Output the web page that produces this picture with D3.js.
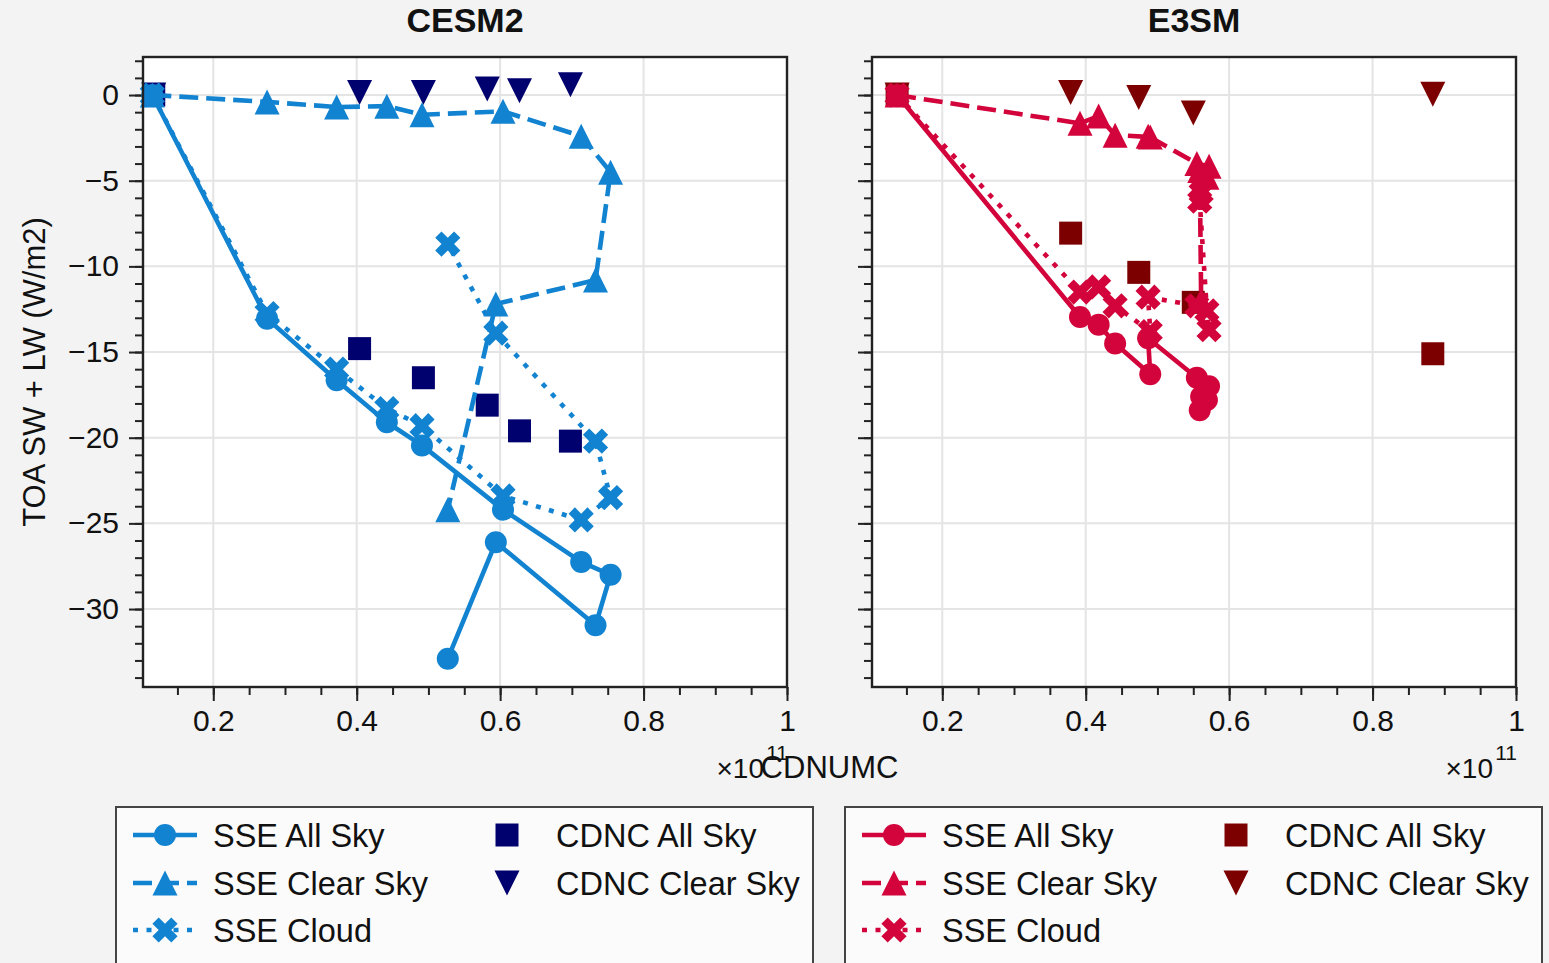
<!DOCTYPE html>
<html>
<head>
<meta charset="utf-8">
<script src="https://cdn.jsdelivr.net/npm/d3@7"></script>
<style>
body { margin: 0; background: #f3f3f3; }
text { font-family: "Liberation Sans", Arial, Helvetica, sans-serif; fill: #111; }
</style>
</head>
<body>
<div class="svg-container"></div>
<script>
// CDNUMC values are in units of 1e11
var cesmX      = [0.115, 0.275, 0.372, 0.442, 0.491, 0.604, 0.713, 0.754, 0.733, 0.594, 0.527];
var cesmAll    = [0, -13.05, -16.65, -19.1, -20.45, -24.2, -27.25, -28.0, -30.95, -26.1, -32.9];
var cesmClear  = [0, -0.4, -0.7, -0.65, -1.15, -0.95, -2.4, -4.5, -10.8, -12.2, -24.2];
var cesmCloud  = [0, -12.75, -16.0, -18.3, -19.3, -23.4, -24.8, -23.5, -20.2, -13.9, -8.7];
var cesmCdncX     = [0.117, 0.404, 0.493, 0.582, 0.627, 0.698];
var cesmCdncAll   = [0, -14.8, -16.5, -18.1, -19.6, -20.2];
var cesmCdncClear = [0, 0.15, 0.15, 0.35, 0.25, 0.6];

var e3smX      = [0.137, 0.392, 0.418, 0.441, 0.49, 0.487, 0.555, 0.572, 0.569, 0.559, 0.561];
var e3smAll    = [0, -12.95, -13.4, -14.5, -16.3, -14.2, -16.5, -17.0, -17.8, -18.4, -17.6];
var e3smClear  = [0, -1.65, -1.23, -2.34, -2.45, -2.4, -4.0, -4.15, -4.8, -4.4, -12.0];
var e3smCloud  = [0, -11.5, -11.2, -12.3, -13.8, -11.8, -12.3, -13.7, -12.6, -6.2, -5.7];
var e3smCdncX     = [0.137, 0.379, 0.474, 0.55, 0.884];
var e3smCdncAll   = [0, -8.06, -10.35, -12.1, -15.1];
var e3smCdncClear = [0, 0.15, -0.15, -1.05, 0.05];

var xTicks = [0.2, 0.4, 0.6, 0.8, 1];
var xTickLabels = ["0.2", "0.4", "0.6", "0.8", "1"];
var yTicks = [0, -5, -10, -15, -20, -25, -30];
var yTickLabels = ["0", "\u22125", "\u221210", "\u221215", "\u221220", "\u221225", "\u221230"];
var legendNames = ["SSE All Sky", "SSE Clear Sky", "SSE Cloud", "CDNC All Sky", "CDNC Clear Sky"];

var width = 1549, height = 963;
var plotTop = 57, plotBottom = 687;

var svg = d3.select(".svg-container").append("svg")
    .attr("width", width)
    .attr("height", height);

svg.append("rect").attr("width", width).attr("height", height).attr("fill", "#f3f3f3");

var y = d3.scaleLinear().domain([-34.55, 2.22]).range([plotBottom, plotTop]);

// marker shapes
function markerPath(type) {
    if (type == "circle") return d3.symbol(d3.symbolCircle, Math.PI * 11 * 11)();
    if (type == "square") return d3.symbol(d3.symbolSquare, 23 * 23)();
    if (type == "up") return "M0,-12.5L-12.5,12.5L12.5,12.5Z";
    if (type == "down") return "M0,12.5L-12.5,-12.5L12.5,-12.5Z";
    // filled X
    var pts = [[-1,-2],[0,-1],[1,-2],[2,-1],[1,0],[2,1],[1,2],[0,1],[-1,2],[-2,1],[-1,0],[-2,-1]];
    return "M" + pts.map(function(p) { return (p[0] * 6.3) + "," + (p[1] * 6.3); }).join("L") + "Z";
}

var lineW = 4.6;
var dashes = { solid: null, dashed: "19,8", dotted: "5,8.5" };

function drawPanel(left, title, xs, all, clear, cloud, cx, cAll, cClear, color, dark, showYLabels) {
    var right = left + 644;
    var x = d3.scaleLinear().domain([0.102, 1.0]).range([left, right]);
    var g = svg.append("g");

    g.append("rect")
        .attr("x", left).attr("y", plotTop)
        .attr("width", right - left).attr("height", plotBottom - plotTop)
        .attr("fill", "white");

    // grid
    g.selectAll(".gx").data(xTicks).enter().append("line")
        .attr("x1", function(d) { return x(d); }).attr("x2", function(d) { return x(d); })
        .attr("y1", plotTop).attr("y2", plotBottom)
        .attr("stroke", "#e4e4e4").attr("stroke-width", 2);
    g.selectAll(".gy").data(yTicks).enter().append("line")
        .attr("x1", left).attr("x2", right)
        .attr("y1", function(d) { return y(d); }).attr("y2", function(d) { return y(d); })
        .attr("stroke", "#e4e4e4").attr("stroke-width", 2);

    // axes
    var xAxis = d3.axisBottom(x).tickValues(xTicks).tickSize(14).tickPadding(9)
        .tickFormat(function(d, i) { return xTickLabels[i]; });
    var xMinor = d3.axisBottom(x).tickValues(d3.range(0.15, 1.001, 0.05)).tickSize(8).tickFormat("");
    var yAxis = d3.axisLeft(y).tickValues(yTicks).tickSize(14).tickPadding(10)
        .tickFormat(function(d, i) { return showYLabels ? yTickLabels[i] : ""; });
    var yMinor = d3.axisLeft(y).tickValues(d3.range(-34, 2.5, 1)).tickSize(8).tickFormat("");

    var ax = [
        g.append("g").attr("transform", "translate(0," + plotBottom + ")").call(xMinor),
        g.append("g").attr("transform", "translate(0," + plotBottom + ")").call(xAxis),
        g.append("g").attr("transform", "translate(" + left + ",0)").call(yMinor),
        g.append("g").attr("transform", "translate(" + left + ",0)").call(yAxis)
    ];
    ax.forEach(function(a) {
        a.select(".domain").remove();
        a.selectAll("line").attr("stroke", "#222").attr("stroke-width", 2);
        a.selectAll("text").style("font-size", "30px").attr("fill", "#111");
    });

    // series
    var series = [
        { xs: cx, ys: cAll, color: dark, line: null, marker: "square" },
        { xs: cx, ys: cClear, color: dark, line: null, marker: "down" },
        { xs: xs, ys: cloud, color: color, line: "dotted", marker: "x" },
        { xs: xs, ys: clear, color: color, line: "dashed", marker: "up" },
        { xs: xs, ys: all, color: color, line: "solid", marker: "circle" }
    ];

    var plot = g.append("g");
    series.forEach(function(s) {
        var pts = s.xs.map(function(v, i) { return [v, s.ys[i]]; });
        if (s.line) {
            var line = d3.line().x(function(d) { return x(d[0]); }).y(function(d) { return y(d[1]); });
            plot.append("path").datum(pts)
                .attr("d", line)
                .attr("fill", "none")
                .attr("stroke", s.color)
                .attr("stroke-width", lineW)
                .attr("stroke-linejoin", "round")
                .attr("stroke-dasharray", dashes[s.line]);
        }
        plot.selectAll(null).data(pts).enter().append("path")
            .attr("d", markerPath(s.marker))
            .attr("transform", function(d) { return "translate(" + x(d[0]) + "," + y(d[1]) + ")"; })
            .attr("fill", s.color);
    });

    // frame
    g.append("rect")
        .attr("x", left).attr("y", plotTop)
        .attr("width", right - left).attr("height", plotBottom - plotTop)
        .attr("fill", "none").attr("stroke", "#222").attr("stroke-width", 2.4);

    // title
    g.append("text")
        .attr("x", (left + right) / 2).attr("y", 32)
        .attr("text-anchor", "middle")
        .style("font-size", "34px").style("font-weight", "bold")
        .text(title);

    // offset text x10^11
    g.append("text")
        .attr("x", right - 23).attr("y", 778)
        .attr("text-anchor", "end")
        .style("font-size", "28px")
        .text("\u00d710");
    g.append("text")
        .attr("x", right + 1).attr("y", 760)
        .attr("text-anchor", "end")
        .style("font-size", "21px")
        .text("11");

    // legend
    var lx = left - 27;
    g.append("rect")
        .attr("x", lx).attr("y", 807)
        .attr("width", 697).attr("height", 190)
        .attr("fill", "#fbfbfb").attr("stroke", "#444").attr("stroke-width", 2);

    var rows = [835, 883, 930];
    var items = [
        { name: legendNames[0], s: series[4], col: 0, row: 0 },
        { name: legendNames[1], s: series[3], col: 0, row: 1 },
        { name: legendNames[2], s: series[2], col: 0, row: 2 },
        { name: legendNames[3], s: series[0], col: 1, row: 0 },
        { name: legendNames[4], s: series[1], col: 1, row: 1 }
    ];
    items.forEach(function(it) {
        var yy = rows[it.row];
        var mx = it.col == 0 ? lx + 49 : lx + 391;
        var tx = it.col == 0 ? lx + 97 : lx + 440;
        if (it.s.line) {
            g.append("line")
                .attr("x1", lx + 17).attr("x2", lx + 81)
                .attr("y1", yy).attr("y2", yy)
                .attr("stroke", it.s.color).attr("stroke-width", lineW)
                .attr("stroke-dasharray", dashes[it.s.line]);
        }
        g.append("path")
            .attr("d", markerPath(it.s.marker))
            .attr("transform", "translate(" + mx + "," + yy + ")")
            .attr("fill", it.s.color);
        g.append("text")
            .attr("x", tx).attr("y", yy).attr("dy", "0.36em")
            .style("font-size", "32.5px")
            .text(it.name);
    });
}

drawPanel(143, "CESM2", cesmX, cesmAll, cesmClear, cesmCloud, cesmCdncX, cesmCdncAll, cesmCdncClear, "#1283d1", "#00006e", true);
drawPanel(872, "E3SM", e3smX, e3smAll, e3smClear, e3smCloud, e3smCdncX, e3smCdncAll, e3smCdncClear, "#d2043b", "#7d0000", false);

// shared labels
svg.append("text")
    .attr("x", 829.5).attr("y", 778)
    .attr("text-anchor", "middle")
    .style("font-size", "31px")
    .text("CDNUMC");

svg.append("text")
    .attr("transform", "translate(45,372) rotate(-90)")
    .attr("text-anchor", "middle")
    .style("font-size", "31px")
    .text("TOA SW + LW (W/m2)");
</script>
</body>
</html>
